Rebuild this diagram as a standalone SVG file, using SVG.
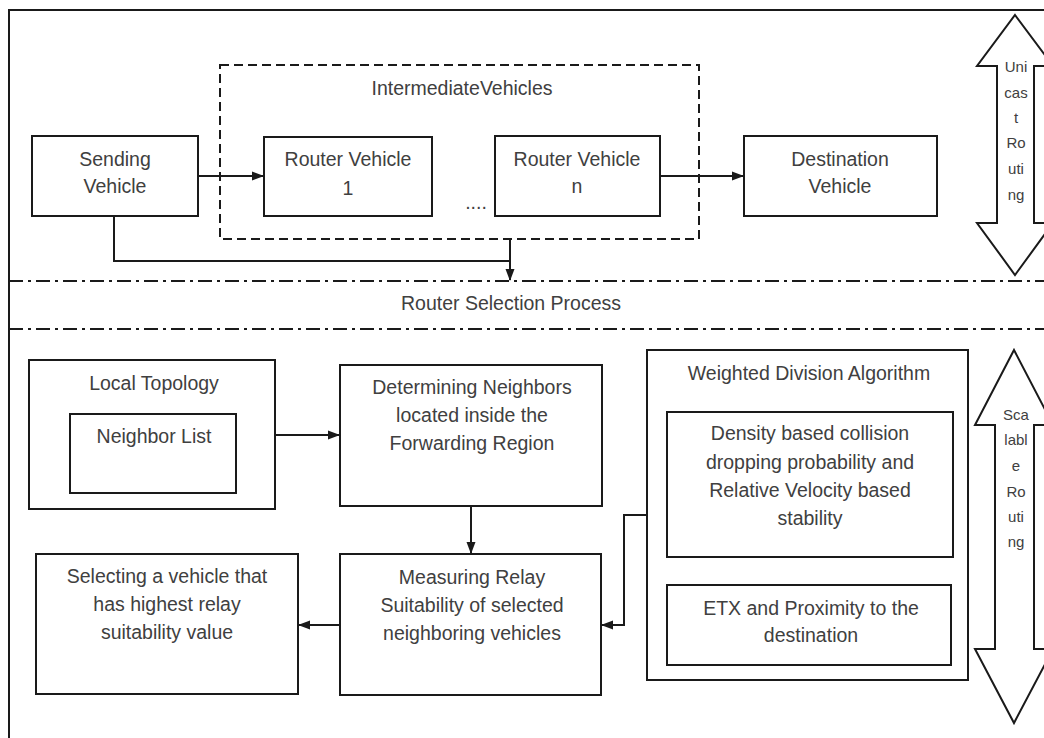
<svg xmlns="http://www.w3.org/2000/svg" width="1044" height="738" viewBox="0 0 1044 738">
<style>
.box{fill:#fff;stroke:#1a1a1a;stroke-width:2}
.dash{fill:none;stroke:#1a1a1a;stroke-width:2;stroke-dasharray:9 5}
.sep{fill:none;stroke:#1a1a1a;stroke-width:2;stroke-dasharray:14 5 3 5}
.con{fill:none;stroke:#1a1a1a;stroke-width:2}
.t{font-family:"Liberation Sans",Arial,sans-serif;font-size:19.5px;fill:#404040;text-anchor:middle}
.s{font-family:"Liberation Sans",Arial,sans-serif;font-size:15px;fill:#404040;text-anchor:middle}
.big{fill:#fff;stroke:#1a1a1a;stroke-width:2;stroke-linejoin:miter}
</style>
<defs>
<marker id="ah" markerWidth="12" markerHeight="12" refX="11" refY="6" orient="auto" markerUnits="userSpaceOnUse">
<path d="M0,1.5 L12,6 L0,10.5 Z" fill="#1a1a1a"/>
</marker>
</defs>
<rect x="0" y="0" width="1044" height="738" fill="#fff"/>
<g id="frame">
<rect x="9" y="10" width="1100" height="800" fill="none" stroke="#1a1a1a" stroke-width="2"/>
<line class="sep" x1="9" y1="281" x2="1044" y2="281"/>
<line class="sep" x1="9" y1="329" x2="1044" y2="329"/>
</g>
<g id="intermediate">
<rect class="dash" x="220" y="65" width="479" height="174"/>
<text class="t" x="462" y="95">IntermediateVehicles</text>
<text class="t" x="476" y="209">....</text>
</g>
<g id="sending"><rect class="box" x="32" y="136" width="166" height="80"/>
<text class="t" x="115" y="166">Sending</text><text class="t" x="115" y="193">Vehicle</text></g>
<g id="router1"><rect class="box" x="264" y="137" width="168" height="79"/>
<text class="t" x="348" y="166">Router Vehicle</text><text class="t" x="348" y="195">1</text></g>
<g id="routern"><rect class="box" x="495" y="136" width="165" height="80"/>
<text class="t" x="577" y="166">Router Vehicle</text><text class="t" x="577" y="193">n</text></g>
<g id="destination"><rect class="box" x="744" y="136" width="193" height="80"/>
<text class="t" x="840" y="166">Destination</text><text class="t" x="840" y="193">Vehicle</text></g>
<g id="unicast">
<polygon class="big" points="1015,15 1053,66 1034,66 1034,223 1053,223 1015,275 977,223 997,223 997,66 977,66"/>
<text class="s" x="1016" y="72">Uni</text><text class="s" x="1016" y="98">cas</text><text class="s" x="1016" y="123">t</text>
<text class="s" x="1016" y="148">Ro</text><text class="s" x="1016" y="174">uti</text><text class="s" x="1016" y="200">ng</text>
</g>
<g id="routerselection"><text class="t" x="511" y="310">Router Selection Process</text></g>
<g id="localtopology"><rect class="box" x="29" y="360" width="246" height="149"/>
<text class="t" x="154" y="390">Local Topology</text></g>
<g id="neighborlist"><rect class="box" x="70" y="414" width="166" height="79"/>
<text class="t" x="154" y="443">Neighbor List</text></g>
<g id="determining"><rect class="box" x="340" y="365" width="262" height="141"/>
<text class="t" x="472" y="394">Determining Neighbors</text><text class="t" x="472" y="422">located inside the</text><text class="t" x="472" y="450">Forwarding Region</text></g>
<g id="measuring"><rect class="box" x="340" y="554" width="261" height="141"/>
<text class="t" x="472" y="584">Measuring Relay</text><text class="t" x="472" y="612">Suitability of selected</text><text class="t" x="472" y="640">neighboring vehicles</text></g>
<g id="selecting"><rect class="box" x="36" y="554" width="262" height="140"/>
<text class="t" x="167" y="583">Selecting a vehicle that</text><text class="t" x="167" y="611">has highest relay</text><text class="t" x="167" y="639">suitability value</text></g>
<g id="weighted"><rect class="box" x="647" y="350" width="321" height="330"/>
<text class="t" x="809" y="380">Weighted Division Algorithm</text></g>
<g id="density"><rect class="box" x="667" y="412" width="286" height="145"/>
<text class="t" x="810" y="440">Density based collision</text><text class="t" x="810" y="469">dropping probability and</text><text class="t" x="810" y="497">Relative Velocity based</text><text class="t" x="810" y="525">stability</text></g>
<g id="etx"><rect class="box" x="667" y="585" width="284" height="80"/>
<text class="t" x="811" y="615">ETX and Proximity to the</text><text class="t" x="811" y="642">destination</text></g>
<g id="scalable">
<polygon class="big" points="1014,350 1053,425 1034,425 1034,649 1053,649 1014,723 975,649 995,649 995,425 975,425"/>
<text class="s" x="1016" y="420">Sca</text><text class="s" x="1016" y="445">labl</text><text class="s" x="1016" y="471">e</text>
<text class="s" x="1016" y="497">Ro</text><text class="s" x="1016" y="522">uti</text><text class="s" x="1016" y="547">ng</text>
</g>
<g id="connectors">
<path class="con" d="M198,176 H263" marker-end="url(#ah)"/>
<path class="con" d="M660,176 H743" marker-end="url(#ah)"/>
<path class="con" d="M114,216 V261 H510"/>
<path class="con" d="M510,239 V280" marker-end="url(#ah)"/>
<path class="con" d="M275,435 H339" marker-end="url(#ah)"/>
<path class="con" d="M471,506 V553" marker-end="url(#ah)"/>
<path class="con" d="M340,625 H299" marker-end="url(#ah)"/>
<path class="con" d="M647,515 H624 V625 H602" marker-end="url(#ah)"/>
</g>
</svg>
